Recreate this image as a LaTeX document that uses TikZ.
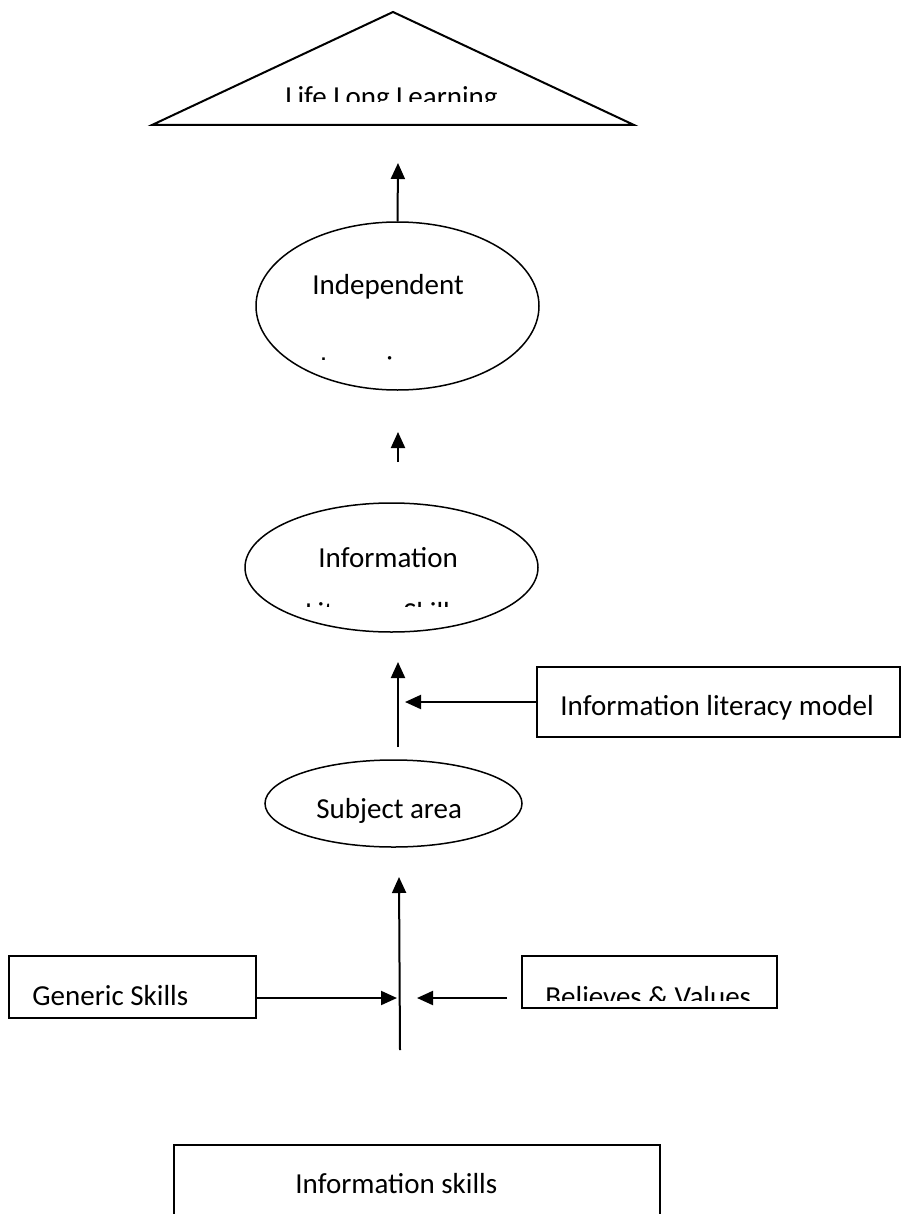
\documentclass[tikz,border=0pt]{standalone}
\usepackage{fontspec}
\setmainfont{Carlito}
\usetikzlibrary{arrows.meta}
\usetikzlibrary{shapes.geometric}

\tikzset{
  txt/.style={inner sep=0pt, font=\fontsize{14.5}{17}\selectfont, anchor=base west},
  bubble/.style={draw, ellipse, line width=0.75pt, inner sep=0pt},
  panel/.style={draw, rectangle, line width=0.75pt, inner sep=0pt},
  up/.style={line width=1pt, -{Triangle[length=8pt,width=7pt]}}
}

\begin{document}
\begin{tikzpicture}[x=0.5pt,y=-0.5pt]
    \clip (0,0) rectangle (901,1214);
    % Life Long Learning
    \coordinate (apex) at (393,12);
    \coordinate (baseL) at (152,125);
    \coordinate (baseR) at (634,125);
    \draw[line width=1pt] (baseL) -- (apex) -- (baseR) -- cycle;
    \begin{scope}
        \clip (150,0) rectangle (640,102);
        \node[txt] (lll) at (285,107) {Life Long Learning};
    \end{scope}
    % ellipses
    \node[bubble, minimum width=141.5pt, minimum height=84pt] (indep) at (397.5,306) {};
    \node[txt] (indepT) at (312,294) {Independent};
    \begin{scope}
        \clip (250,230) rectangle (560,359);
        \node[txt] (indepB) at (320,376) {Learning};
    \end{scope}
    \node[bubble, minimum width=146.5pt, minimum height=64.5pt] (ils) at (391.5,567.5) {};
    \node[txt] (ilsT) at (318,567) {Information};
    \begin{scope}
        \clip (240,490) rectangle (560,606);
        \node[txt] (ilsB) at (305,622) {Literacy Skills};
    \end{scope}
    \node[bubble, minimum width=128.5pt, minimum height=43.5pt] (subj) at (393.5,803.5) {};
    \node[txt] (subjT) at (316,818) {Subject area};
    % boxes
    \node[panel, minimum width=181.5pt, minimum height=35pt] (model) at (718.5,702) {};
    \node[txt] (modelT) at (560,715) {Information literacy model};
    \node[panel, minimum width=123.5pt, minimum height=31pt] (generic) at (132.5,987) {};
    \node[txt] (genericT) at (32,1005) {Generic Skills};
    \node[panel, minimum width=127.5pt, minimum height=26pt] (values) at (649.5,982) {};
    \begin{scope}
        \clip (520,950) rectangle (780,1000);
        \node[txt] (valuesT) at (545,1006) {Believes \& Values};
    \end{scope}
    \node[panel, minimum width=243pt, minimum height=57.5pt] (skills) at (417,1202.5) {};
    \node[txt] (skillsT) at (295,1193) {Information skills};
    % arrows
    \coordinate (tipA) at (398,163);
    \coordinate (startB) at (398,462);
    \coordinate (tipB) at (398,432);
    \coordinate (startC) at (398,747);
    \coordinate (tipC) at (398,662);
    \coordinate (tipM) at (405,702);
    \coordinate (startD) at (400,1050);
    \coordinate (tipD) at (399,877);
    \coordinate (tipG) at (397,998);
    \coordinate (startV) at (507,998);
    \coordinate (tipV) at (417,998);
    \draw[up] (indep.north) -- (tipA);
    \draw[up] (startB) -- (tipB);
    \draw[up] (startC) -- (tipC);
    \draw[up] (model.west) -- (tipM);
    \draw[up] (startD) -- (tipD);
    \draw[up] ([yshift=-5.5pt]generic.east) -- (tipG);
    \draw[up] (startV) -- (tipV);
\end{tikzpicture}
\end{document}
